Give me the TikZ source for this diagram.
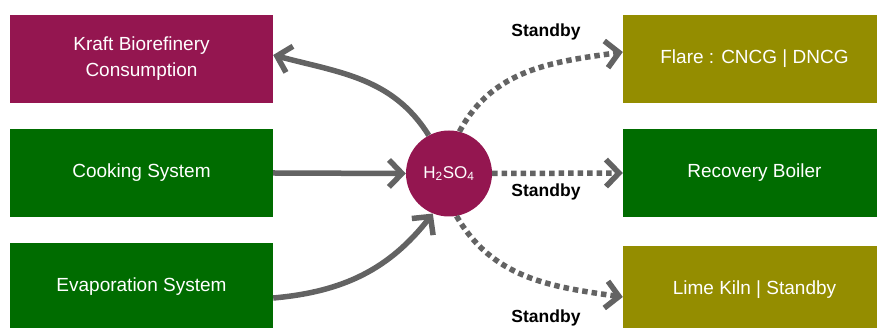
\documentclass[tikz,border=0pt]{standalone}
\usepackage{fontspec}
\setmainfont{Liberation Sans}
\usetikzlibrary{arrows.meta}
\definecolor{magbox}{HTML}{941650}
\definecolor{grnbox}{HTML}{006C00}
\definecolor{olvbox}{HTML}{948D00}
\definecolor{arrgray}{HTML}{636363}
\begin{document}
\begin{tikzpicture}[x=1pt,y=1pt,
  box/.style={rectangle, minimum width=263pt, minimum height=88pt, inner sep=0pt,
    text=white, align=center, font=\fontsize{19}{26}\selectfont},
  flow/.style={draw=arrgray, line width=5.5pt, -{Straight Barb[length=13pt,width=27pt,line width=5.5pt]}},
  sflow/.style={flow, dash pattern=on 5.5pt off 4pt},
  lab/.style={font=\bfseries\fontsize{17.5}{20}\selectfont, text=black}]
\useasboundingbox (0,0) rectangle (877,328);
\clip (0,0) rectangle (877,328);
% left boxes (y up = 328 - y_img)
\node[box, fill=magbox] (kraft) at (141.5,269) {Kraft Biorefinery\\Consumption};
\node[box, fill=grnbox] (cook) at (141.5,155) {Cooking System};
\node[box, fill=grnbox] (evap) at (141.5,41) {Evaporation System};
% right boxes
\node[box, fill=olvbox] (flare) at (754.5,269) {Flare : CNCG | DNCG};
\node[box, fill=grnbox] (rboil) at (754.5,155) {Recovery Boiler};
\node[box, fill=olvbox] (lime) at (754.5,38) {Lime Kiln | Standby};
% center
\node[circle, fill=magbox, minimum size=86pt, inner sep=0pt, text=white,
  font=\fontsize{17}{20}\selectfont] (h) at (449,154.5) {H\textsubscript{2}SO\textsubscript{4}};
% arrows
\draw[flow] (h.118) to[out=122, in=-15] (kraft.east |- 0,273);
\draw[flow] (cook.east) -- (h.west);
\draw[flow] (evap.east |- 0,30) to[out=5, in=-128] (h.-112);
\draw[sflow] (h.76) to[out=62, in=-172] (flare.west |- 0,276);
\draw[sflow] (h.east) -- (rboil.west);
\draw[sflow] (h.-80) to[out=-60, in=172] (lime.west |- 0,31);
% labels
\node[lab] (s1) at (546,296) {Standby};
\node[lab] (s2) at (546,136) {Standby};
\node[lab] (s3) at (546,10) {Standby};
\end{tikzpicture}
\end{document}
